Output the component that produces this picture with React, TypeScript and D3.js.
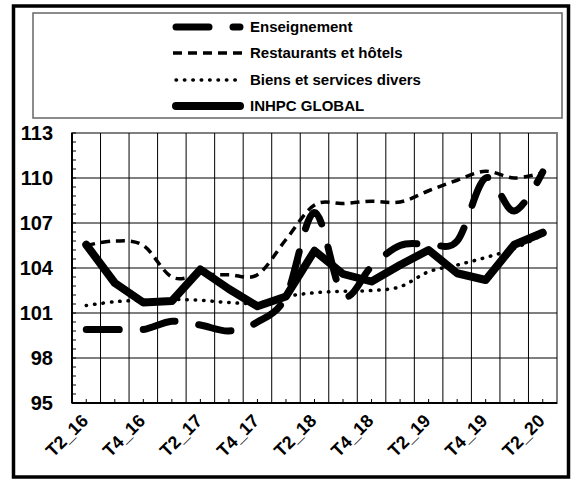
import React from "react";
import * as d3 from "d3";

const categories = [
  "T2_16", "T3_16", "T4_16", "T1_17", "T2_17", "T3_17", "T4_17", "T1_18", "T2_18",
  "T3_18", "T4_18", "T1_19", "T2_19", "T3_19", "T4_19", "T1_20", "T2_20",
];
const enseignement = [99.9, 99.9, 99.9, 100.45, 100.2, 99.8, 100.4, 102.1, 107.7, 102.2, 104.1, 105.5, 105.6, 105.8, 110.0, 107.8, 110.4];
const restaurants = [105.5, 105.8, 105.5, 103.4, 103.55, 103.55, 103.55, 105.9, 108.2, 108.3, 108.45, 108.4, 109.15, 109.85, 110.45, 110.0, 110.35];
const biens = [101.5, 101.75, 101.85, 101.9, 101.85, 101.7, 101.65, 102.1, 102.35, 102.45, 102.5, 102.75, 103.75, 104.2, 104.7, 105.3, 106.2];
const inhpc = [105.55, 103.0, 101.7, 101.8, 103.9, 102.6, 101.45, 102.1, 105.15, 103.6, 103.1, 104.2, 105.2, 103.65, 103.2, 105.55, 106.35];
const yTicks = [95, 98, 101, 104, 107, 110, 113];

const FONT = "'Liberation Sans', Arial, Helvetica, sans-serif";

const series = [
  { name: "Enseignement", values: enseignement, width: 7, dash: "33 24", cap: "round", smooth: true },
  { name: "Restaurants et hôtels", values: restaurants, width: 3.5, dash: "9 6", cap: "butt", smooth: true },
  { name: "Biens et services divers", values: biens, width: 3.5, dash: "0.5 7.9", cap: "round", smooth: true },
  { name: "INHPC GLOBAL", values: inhpc, width: 8, dash: null, cap: "round", smooth: false },
];

export default function App() {
  const W = 571, H = 479;
  const left = 72, right = 557, top = 133, bottom = 403;

  const x = d3.scaleBand<string>().domain(categories).range([left, right]);
  const y = d3.scaleLinear().domain([95, 113]).range([bottom, top]);
  const cx = (c: string) => (x(c) as number) + x.bandwidth() / 2;

  const minorY = d3.range(95, 113.001, 0.6);

  const legendRows = [27, 53, 80, 106];

  return (
    <svg width={W} height={H} style={{ position: "absolute", left: 0, top: 0, background: "#fff" }}>
      <rect x={0} y={0} width={W} height={H} fill="#fff" />
      {/* outer frame */}
      <rect x={13.5} y={6} width={555} height={471} fill="none" stroke="#000" strokeWidth={3.5} />

      {/* legend */}
      <rect x={33} y={13} width={529} height={105} fill="#fff" stroke="#666" strokeWidth={1.5} />
      {series.map((s, i) => (
        <g key={s.name}>
          <line x1={s.cap === "round" ? 176 : 173} x2={s.cap === "round" ? 240 : 243} y1={legendRows[i]} y2={legendRows[i]} stroke="#000"
            strokeWidth={s.width} strokeDasharray={s.dash || undefined} strokeLinecap={s.cap as any} />
          <text x={250} y={legendRows[i]} dy="0.36em" fontFamily={FONT} fontWeight="bold" fontSize={15}>{s.name}</text>
        </g>
      ))}

      {/* plot area */}
      <rect x={left} y={top} width={right - left} height={bottom - top} fill="#fff" stroke="#808080" strokeWidth={2} />
      {yTicks.slice(1, -1).map(t => (
        <line key={t} x1={left} x2={right} y1={y(t)} y2={y(t)} stroke="#000" strokeWidth={1} />
      ))}
      {categories.slice(1).map(c => (
        <line key={c} x1={x(c)} x2={x(c)} y1={top} y2={bottom} stroke="#000" strokeWidth={1} />
      ))}
      {minorY.map(t => (
        <line key={t} x1={left} x2={left + 4} y1={y(t)} y2={y(t)} stroke="#000" strokeWidth={1} />
      ))}
      {categories.map(c => (
        <line key={c} x1={cx(c)} x2={cx(c)} y1={bottom} y2={bottom - 4} stroke="#000" strokeWidth={1} />
      ))}
      <line x1={left} x2={left} y1={top} y2={bottom} stroke="#000" strokeWidth={2} />
      <line x1={left} x2={right} y1={bottom} y2={bottom} stroke="#000" strokeWidth={2} />

      {/* y labels */}
      {yTicks.map(t => (
        <text key={t} x={53} y={y(t)} dy="0.36em" textAnchor="end" fontFamily={FONT} fontWeight="bold" fontSize={20}>{t}</text>
      ))}

      {/* x labels */}
      {categories.filter((_, i) => i % 2 === 0).map(c => (
        <text key={c} transform={`translate(${cx(c) + 3},${bottom + 19}) rotate(-45)`} textAnchor="end"
          fontFamily={FONT} fontWeight="bold" fontSize={18}>{c}</text>
      ))}

      {/* series */}
      {series.map(s => {
        const line = d3.line<number>()
          .x((_, i) => cx(categories[i]))
          .y(v => y(v))
          .curve(s.smooth ? d3.curveCatmullRom.alpha(0) : d3.curveLinear);
        return (
          <path key={s.name} d={line(s.values) || ""} fill="none" stroke="#000" strokeWidth={s.width}
            strokeDasharray={s.dash || undefined} strokeLinecap={s.cap as any} strokeLinejoin="round" />
        );
      })}
    </svg>
  );
}
